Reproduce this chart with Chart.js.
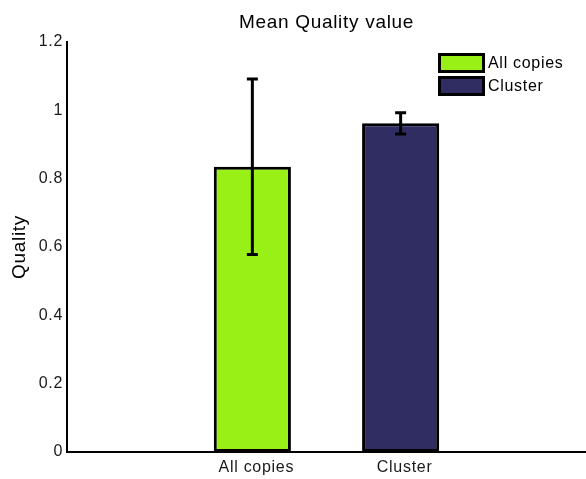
<!DOCTYPE html>
<html>
<head>
<meta charset="utf-8">
<script src="https://cdn.jsdelivr.net/npm/chart.js@4.4.1/dist/chart.umd.min.js"></script>
<style>
  html, body { margin: 0; padding: 0; background: #fff; }
  #wrap { width: 586px; height: 479px; position: relative; }
</style>
</head>
<body>
<div id="wrap"><canvas id="c"></canvas></div>
<script>
// ---- data ----
const categories = ['All copies', 'Cluster'];
const seriesLabels = ['All copies', 'Cluster'];
const meanValues = [0.835, 0.962];
const errorValues = [0.257, 0.031];
const yTicks = [0, 0.2, 0.4, 0.6, 0.8, 1, 1.2];
const chartTitle = 'Mean Quality value';
const yAxisTitle = 'Quality';

const colors = ['#99F016', '#302D62'];
const FONT = '"Liberation Sans", Arial, Helvetica, sans-serif';
const SPACING = '0.7px';

const spacingPlugin = {
  id: 'spacing',
  beforeUpdate(chart) { chart.ctx.letterSpacing = SPACING; },
  beforeDraw(chart) {
    const ctx = chart.ctx;
    ctx.letterSpacing = SPACING;
    ctx.save();
    ctx.fillStyle = '#fff';
    ctx.fillRect(0, 0, chart.width, chart.height);
    ctx.restore();
  }
};

const errorBarPlugin = {
  id: 'errorBars',
  afterDatasetsDraw(chart) {
    const ctx = chart.ctx;
    const y = chart.scales.y;
    ctx.save();
    ctx.strokeStyle = '#000';
    ctx.lineWidth = 3;
    chart.data.datasets.forEach((ds, i) => {
      const meta = chart.getDatasetMeta(i);
      meta.data.forEach((bar, j) => {
        const m = ds.data[j].y;
        const e = ds.errors[j];
        const yt = y.getPixelForValue(m + e);
        const yb = y.getPixelForValue(m - e);
        const x = bar.x;
        const cap = 5.5;
        ctx.beginPath();
        ctx.moveTo(x, yt); ctx.lineTo(x, yb);
        ctx.moveTo(x - cap, yt); ctx.lineTo(x + cap, yt);
        ctx.moveTo(x - cap, yb); ctx.lineTo(x + cap, yb);
        ctx.stroke();
      });
    });
    ctx.restore();
  }
};

const titleLegendPlugin = {
  id: 'titleLegend',
  afterDraw(chart) {
    const ctx = chart.ctx;
    const area = chart.chartArea;
    ctx.save();
    ctx.letterSpacing = SPACING;
    // title
    ctx.fillStyle = '#000';
    ctx.font = '19px ' + FONT;
    ctx.textAlign = 'center';
    ctx.textBaseline = 'alphabetic';
    ctx.fillText(chartTitle, (area.left + area.right) / 2, 28);
    // legend
    const lx = 438, ly = 53, w = 47, h = 20, gap = 23;
    ctx.font = '16px ' + FONT;
    ctx.textAlign = 'left';
    ctx.textBaseline = 'middle';
    chart.data.datasets.forEach((ds, i) => {
      const top = ly + i * gap;
      ctx.fillStyle = ds.backgroundColor;
      ctx.fillRect(lx, top, w, h);
      ctx.lineWidth = 3;
      ctx.strokeStyle = '#000';
      ctx.strokeRect(lx + 1.5, top + 1.5, w - 3, h - 3);
      ctx.fillStyle = '#000';
      ctx.fillText(ds.label, lx + w + 3, top + h / 2 + 1);
    });
    ctx.restore();
  }
};

const datasets = seriesLabels.map((lab, i) => ({
  label: lab,
  data: [{ x: i + 1, y: meanValues[i] }],
  errors: [errorValues[i]],
  backgroundColor: colors[i],
  borderColor: '#000',
  borderWidth: 3,
  borderSkipped: false,
  grouped: false,
  categoryPercentage: 1,
  barPercentage: 0.52
}));

new Chart(document.getElementById('c'), {
  type: 'bar',
  data: { datasets },
  options: {
    responsive: true,
    maintainAspectRatio: false,
    animation: false,
    layout: { padding: { top: 42, right: 0, left: 0, bottom: 0 } },
    plugins: {
      legend: { display: false },
      title: { display: false },
      tooltip: { enabled: false }
    },
    scales: {
      x: {
        type: 'linear',
        min: -0.25,
        max: 3.25,
        offset: false,
        grid: { display: false, drawTicks: false, offset: false },
        border: { display: true, color: '#000', width: 2 },
        afterBuildTicks(scale) {
          scale.ticks = categories.map((_, i) => ({ value: i + 1 }));
        },
        afterFit(scale) { scale.height = 27; },
        ticks: {
          padding: 6,
          labelOffset: 4,
          color: '#1a1a1a',
          font: { family: FONT, size: 16 },
          autoSkip: false,
          maxRotation: 0,
          callback: (v) => categories[v - 1] ?? ''
        }
      },
      y: {
        min: 0,
        max: 1.2,
        grid: { display: false, drawTicks: false },
        border: { display: true, color: '#000', width: 2 },
        afterBuildTicks(scale) {
          scale.ticks = yTicks.map(v => ({ value: v }));
        },
        afterFit(scale) { scale.width = 67; },
        ticks: {
          padding: 4,
          color: '#1a1a1a',
          font: { family: FONT, size: 16 },
          callback: (v) => String(v)
        },
        title: {
          display: true,
          text: yAxisTitle,
          color: '#000',
          font: { family: FONT, size: 19 },
          padding: { top: 8, bottom: 0 }
        }
      }
    }
  },
  plugins: [spacingPlugin, errorBarPlugin, titleLegendPlugin]
});
</script>
</body>
</html>
